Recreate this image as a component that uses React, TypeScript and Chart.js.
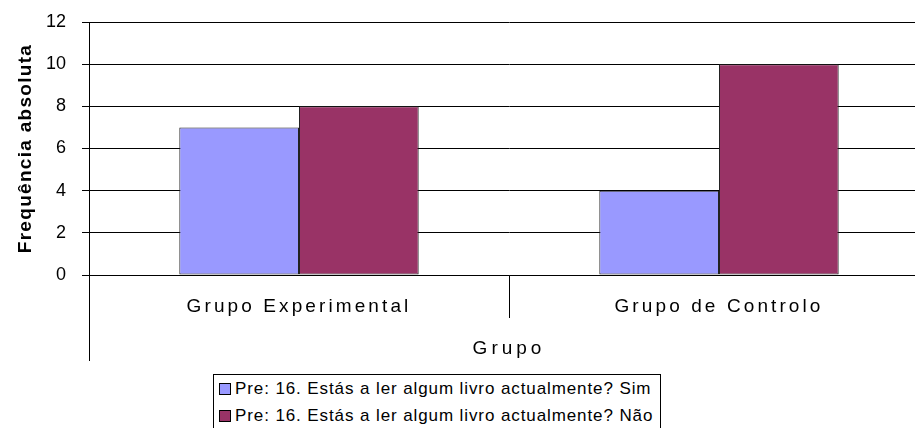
import React, { useEffect, useRef } from 'react';
import { Chart, registerables, CategoryScale, LinearScale } from 'chart.js';

Chart.register(...registerables);

// ---- data ----
const categories = ['Grupo Experimental', 'Grupo de Controlo'];
const simValues = [7, 4];
const naoValues = [8, 10];
const seriesLabels = [
  'Pre: 16. Estás a ler algum livro actualmente? Sim',
  'Pre: 16. Estás a ler algum livro actualmente? Não',
];
const yTitle = 'Frequência absoluta';
const xTitle = 'Grupo';
const yMin = 0;
const yMax = 12;
const yStep = 2;

// ---- styles ----
const FONT = '"Liberation Sans", Arial, Helvetica, sans-serif';
const COLORS = ['#9999FF', '#993366'];
const LS_XLABEL = '3.1px';
const LS_XTITLE = '4px';
const LS_YTITLE = '1.3px';

class SpacedCategoryScale extends CategoryScale {
  static id = 'spacedCategory';
  drawLabels(area: any) {
    const c: any = this.ctx;
    c.save();
    c.letterSpacing = LS_XLABEL;
    super.drawLabels(area);
    c.restore();
  }
  drawTitle() {
    const c: any = this.ctx;
    c.save();
    c.letterSpacing = LS_XTITLE;
    super.drawTitle();
    c.restore();
  }
}

class SpacedLinearScale extends LinearScale {
  static id = 'spacedLinear';
  drawTitle() {
    const c: any = this.ctx;
    c.save();
    c.letterSpacing = LS_YTITLE;
    super.drawTitle();
    c.restore();
  }
}

Chart.register(SpacedCategoryScale as any, SpacedLinearScale as any);

const axisExtension = {
  id: 'axisExtension',
  afterDraw(chart: any) {
    const { ctx, chartArea } = chart;
    const x = Math.round(chartArea.left) + 0.5;
    ctx.save();
    ctx.strokeStyle = '#000';
    ctx.lineWidth = 1;
    ctx.beginPath();
    ctx.moveTo(x, chartArea.bottom);
    ctx.lineTo(x, chartArea.bottom + 86);
    ctx.stroke();
    ctx.restore();
  },
};

export default function App() {
  const ref = useRef<HTMLCanvasElement | null>(null);

  useEffect(() => {
    if (!ref.current) return;
    const chart = new Chart(ref.current, {
      type: 'bar',
      data: {
        labels: categories,
        datasets: [
          {
            label: seriesLabels[0],
            data: simValues,
            backgroundColor: COLORS[0],
            borderColor: '#222',
            borderWidth: 1,
            borderSkipped: false,
          },
          {
            label: seriesLabels[1],
            data: naoValues,
            backgroundColor: COLORS[1],
            borderColor: '#222',
            borderWidth: 1,
            borderSkipped: false,
          },
        ],
      },
      options: {
        animation: false,
        responsive: false,
        devicePixelRatio: 1,
        layout: { padding: { top: 22, right: 11, left: 0, bottom: 0 } },
        datasets: { bar: { categoryPercentage: 0.57, barPercentage: 1 } } as any,
        plugins: {
          legend: { display: false },
          tooltip: { enabled: false },
          title: { display: false },
        },
        scales: {
          x: {
            type: 'spacedCategory' as any,
            offset: true,
            grid: {
              offset: true,
              drawOnChartArea: false,
              drawTicks: true,
              tickLength: 43,
              color: '#000',
              lineWidth: 1,
            },
            border: { display: true, color: '#000', width: 1 },
            ticks: {
              color: '#000',
              font: { family: FONT, size: 19 },
              padding: -23,
              maxRotation: 0,
              autoSkip: false,
            },
            title: {
              display: true,
              text: xTitle,
              color: '#000',
              font: { family: FONT, size: 19 },
              padding: { top: 0, bottom: 68 },
            },
            afterFit: (s: any) => {
              s.height = 153;
              s.paddingLeft = 0;
              s.paddingRight = 0;
            },
          } as any,
          y: {
            type: 'spacedLinear' as any,
            min: yMin,
            max: yMax,
            ticks: {
              stepSize: yStep,
              color: '#000',
              font: { family: FONT, size: 18 },
              padding: 16,
            },
            grid: {
              color: '#000',
              lineWidth: 1,
              drawTicks: true,
              tickLength: 7,
            },
            border: { display: true, color: '#000', width: 1 },
            title: {
              display: true,
              text: yTitle,
              color: '#000',
              font: { family: FONT, size: 19, weight: 'bold' },
              padding: { top: 14, bottom: 0 },
            },
            afterFit: (s: any) => {
              s.width = 89;
              s.paddingTop = 0;
              s.paddingBottom = 0;
            },
          } as any,
        },
      },
      plugins: [axisExtension],
    });
    return () => chart.destroy();
  }, []);

  return (
    <div
      style={{
        position: 'fixed',
        left: 0,
        top: 0,
        width: 915,
        height: 428,
        overflow: 'hidden',
        background: '#fff',
      }}
    >
      <canvas ref={ref} width={940} height={428} style={{ display: 'block', width: 940, height: 428 }} />
      <div
        style={{
          position: 'absolute',
          left: 213,
          top: 374,
          width: 448,
          height: 70,
          boxSizing: 'border-box',
          border: '1px solid #000',
          background: '#fff',
          fontFamily: FONT,
          fontSize: 17,
          letterSpacing: '0.9px',
          color: '#000',
        }}
      >
        {seriesLabels.map((lab, i) => (
          <div key={i} style={{ height: 27, display: 'flex', alignItems: 'center', whiteSpace: 'nowrap' }}>
            <span
              style={{
                display: 'inline-block',
                width: 12,
                height: 12,
                boxSizing: 'border-box',
                border: '1px solid #000',
                background: COLORS[i],
                marginLeft: 5,
                marginRight: 4,
                flex: '0 0 auto',
              }}
            />
            <span>{lab}</span>
          </div>
        ))}
      </div>
    </div>
  );
}
